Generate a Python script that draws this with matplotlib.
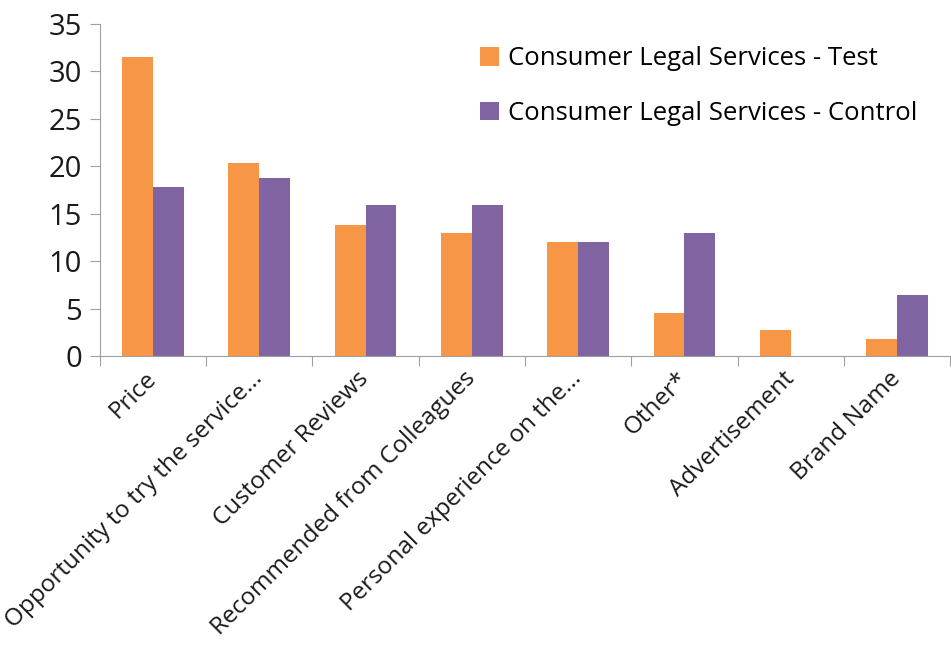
import matplotlib.pyplot as plt
import numpy as np

plt.rcParams['font.family'] = ['Open Sans', 'DejaVu Sans']

# data
categories = ["Price", "Opportunity to try the service...", "Customer Reviews",
              "Recommended from Colleagues", "Personal experience on the...",
              "Other*", "Advertisement", "Brand Name"]
test_vals = [31.5, 20.3, 13.8, 13.0, 12.0, 4.5, 2.7, 1.8]
control_vals = [17.8, 18.75, 15.9, 15.9, 12.0, 13.0, 0, 6.4]
series_names = ["Consumer Legal Services - Test", "Consumer Legal Services - Control"]

orange = "#F79646"
purple = "#8064A2"
grey = "#A0A0A0"

fig = plt.figure(figsize=(9.51, 6.66), dpi=100)
ax = fig.add_axes([0.105, 0.4655, 0.894, 0.4985])

x = np.arange(len(categories))
w = 0.29
ax.bar(x - w/2, test_vals, w, color=orange, label=series_names[0])
ax.bar(x + w/2, control_vals, w, color=purple, label=series_names[1])

ax.set_xlim(-0.5, len(categories) - 0.5)
ax.set_ylim(0, 35)
ax.set_yticks(range(0, 36, 5))
ax.tick_params(axis='y', labelsize=21, length=7, color=grey, pad=6, labelcolor="#1a1a1a")

# category ticks sit on the boundaries, labels at bar centres
ax.set_xticks(np.arange(-0.5, len(categories), 1.0))
ax.set_xticklabels([])
ax.set_xticks(x, minor=True)
ax.set_xticklabels(categories, minor=True, rotation=45, ha='right', va='center',
                   rotation_mode='anchor', fontsize=17.5, color="#1a1a1a")
ax.tick_params(axis='x', which='major', length=7, color=grey)
ax.tick_params(axis='x', which='minor', length=0, pad=14)

for s in ["top", "right"]:
    ax.spines[s].set_visible(False)
for s in ["left", "bottom"]:
    ax.spines[s].set_color(grey)

fig.legend(loc='upper left', bbox_to_anchor=(0.48, 0.965), frameon=False,
           fontsize=18.5, handlelength=0.75, handleheight=0.75, handletextpad=0.35,
           labelspacing=1.15)

fig.savefig("out.png", dpi=100)
